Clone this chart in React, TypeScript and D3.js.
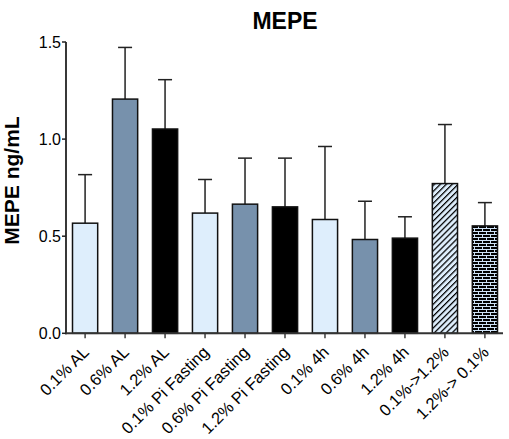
import React from "react";
import * as d3 from "d3";

const categories = [
  "0.1% AL", "0.6% AL", "1.2% AL",
  "0.1% Pi Fasting", "0.6% Pi Fasting", "1.2% Pi Fasting",
  "0.1% 4h", "0.6% 4h", "1.2% 4h",
  "0.1%->1.2%", "1.2%-> 0.1%",
];
const means = [0.567, 1.206, 1.052, 0.619, 0.665, 0.651, 0.586, 0.483, 0.49, 0.771, 0.553];
const upper = [0.817, 1.472, 1.306, 0.792, 0.902, 0.902, 0.962, 0.68, 0.6, 1.075, 0.673];
const fills = ["light", "mid", "dark", "light", "mid", "dark", "light", "mid", "dark", "hatch", "brick"];
const yTicks = [0.0, 0.5, 1.0, 1.5];

const fillMap: Record<string, string> = {
  light: "#deeefc",
  mid: "#7791ac",
  dark: "#000000",
  hatch: "url(#hatch)",
  brick: "url(#brick)",
};

export default function App() {
  const W = 509, H = 439;
  const x0 = 66, x1 = 503, yTop = 42, yBot = 333.3;
  const y = d3.scaleLinear().domain([0, 1.5]).range([yBot, yTop]);
  const x = d3.scaleBand().domain(categories).range([x0 + 0.5, x1 + 0.5]).paddingInner(0.37).paddingOuter(0.15);
  const bw = x.bandwidth();
  return (
    <svg width={W} height={H} style={{ position: "absolute", left: 0, top: 0 }} fontFamily="Arial, 'Liberation Sans', sans-serif">
      <defs>
        <pattern id="hatch" patternUnits="userSpaceOnUse" width="4.2" height="4.2" patternTransform="rotate(-45)">
          <rect width="4.2" height="4.2" fill="#deeefc" />
          <line x1="0" y1="0" x2="4.2" y2="0" stroke="#000" strokeWidth="2.5" />
        </pattern>
        <pattern id="brick" patternUnits="userSpaceOnUse" width="8" height="6">
          <rect width="8" height="6" fill="#000" />
          <line x1="0" y1="0.5" x2="8" y2="0.5" stroke="#cfe3f7" strokeWidth="1" />
          <line x1="0" y1="3.5" x2="8" y2="3.5" stroke="#cfe3f7" strokeWidth="1" />
          <line x1="2.5" y1="0.5" x2="2.5" y2="3.5" stroke="#cfe3f7" strokeWidth="1" />
          <line x1="6.5" y1="3.5" x2="6.5" y2="6.5" stroke="#cfe3f7" strokeWidth="1" />
        </pattern>
      </defs>
      <text x={285} y={29.3} textAnchor="middle" fontWeight="bold" fontSize={23}>MEPE</text>
      <text transform={`translate(19,180.5) rotate(-90)`} textAnchor="middle" fontWeight="bold" fontSize={21}>MEPE ng/mL</text>
      {categories.map((c, i) => {
        const cx = (x(c) as number) + bw / 2;
        return (
          <g key={c}>
            <line x1={cx} x2={cx} y1={y(means[i])} y2={y(upper[i])} stroke="#222" strokeWidth={1.5} />
            <line x1={cx - 7} x2={cx + 7} y1={y(upper[i])} y2={y(upper[i])} stroke="#222" strokeWidth={1.5} />
            <rect x={x(c)} y={y(means[i])} width={bw} height={yBot - y(means[i])} fill={fillMap[fills[i]]} stroke="#111" strokeWidth={1.5} />
            <line x1={cx} x2={cx} y1={yBot} y2={yBot + 5} stroke="#222" strokeWidth={1.3} />
            <text transform={`translate(${cx + 5},${yBot + 20}) rotate(-45)`} textAnchor="end" fontSize={16.5}>{c}</text>
          </g>
        );
      })}
      <line x1={x0} x2={x0} y1={yTop} y2={yBot + 1} stroke="#222" strokeWidth={1.8} />
      <line x1={x0 - 1} x2={x1} y1={yBot} y2={yBot} stroke="#333" strokeWidth={2} />
      {yTicks.map((t) => (
        <g key={t}>
          <line x1={x0 - 4} x2={x0} y1={y(t)} y2={y(t)} stroke="#222" strokeWidth={1.5} />
          <text x={x0 - 5} y={y(t)} dy="0.35em" textAnchor="end" fontSize={16}>{t.toFixed(1)}</text>
        </g>
      ))}
    </svg>
  );
}
